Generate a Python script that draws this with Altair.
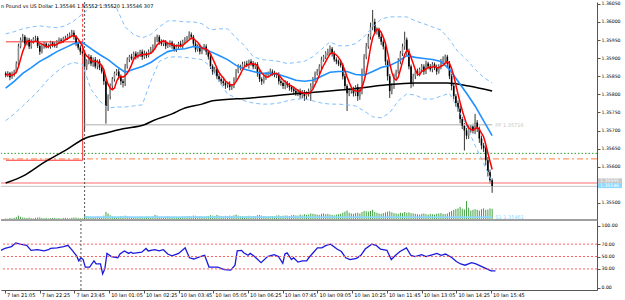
import altair as alt
import pandas as pd

BASE = 1.35
PT = 1e-5

# ---- bar data (points above 1.35000) ----
first_open_pts = 858
close_pts = [
    853, 858, 847, 855, 863, 885, 932, 951, 959, 940,
    951, 932, 945, 954, 956, 934, 918, 932, 940, 934,
    932, 943, 937, 934, 945, 951, 948, 954, 956, 962,
    965, 970, 959, 940, 929, 918, 913, 877, 891, 904,
    885, 896, 877, 891, 874, 863, 836, 768, 795, 823,
    842, 858, 863, 850, 836, 831, 877, 896, 904, 899,
    913, 904, 910, 918, 904, 913, 907, 918, 924, 932,
    951, 959, 945, 940, 945, 934, 937, 943, 934, 924,
    932, 940, 934, 945, 951, 956, 965, 959, 940, 924,
    932, 918, 926, 932, 918, 904, 877, 863, 869, 850,
    842, 836, 831, 825, 828, 820, 823, 842, 863, 877,
    874, 883, 885, 880, 891, 885, 877, 883, 858, 842,
    836, 847, 855, 858, 863, 858, 853, 855, 836, 831,
    823, 831, 825, 820, 814, 809, 803, 809, 798, 806,
    795, 803, 809, 823, 842, 858, 863, 877, 896, 904,
    913, 918, 926, 913, 896, 891, 885, 880, 850, 823,
    803, 809, 814, 803, 820, 795, 809, 863, 904, 932,
    959, 986, 1000, 973, 978, 959, 945, 932, 891, 850,
    809, 823, 850, 863, 891, 913, 932, 951, 918, 877,
    831, 850, 863, 858, 869, 877, 863, 885, 877, 869,
    883, 874, 863, 877, 891, 896, 904, 885, 850, 823,
    795, 776, 760, 732, 713, 700, 686, 705, 711, 700,
    722, 705, 678, 659, 651, 618, 585, 563, 546,
]
high_ext = [
    5, 6, 4, 8, 5, 6, 8, 6, 8, 5,
    6, 5, 7, 4, 6, 5, 6, 8, 5, 4,
    6, 5, 4, 7, 5, 6, 4, 5, 6, 5,
    6, 8, 7, 5, 4, 6, 5, 8, 6, 7,
    5, 6, 7, 5, 6, 4, 8, 6, 5, 7,
    6, 5, 7, 8, 5, 6, 7, 6, 5, 8,
    5, 6, 7, 5, 6, 8, 5, 6, 7, 6,
    8, 6, 5, 7, 6, 5, 8, 6, 5, 7,
    6, 5, 8, 6, 7, 5, 9, 6, 5, 7,
    6, 8, 5, 7, 6, 5, 8, 6, 7, 5,
    6, 5, 7, 6, 5, 8, 6, 5, 7, 6,
    5, 7, 6, 8, 5, 6, 7, 5, 6, 8,
    5, 7, 6, 5, 8, 6, 7, 5, 6, 7,
    5, 8, 6, 7, 5, 6, 8, 5, 7, 6,
    6, 5, 7, 8, 6, 5, 7, 6, 8, 5,
    6, 8, 9, 5, 7, 6, 5, 8, 6, 7,
    5, 8, 6, 7, 5, 9, 6, 8, 7, 10,
    8, 12, 33, 9, 7, 6, 8, 7, 6, 5,
    6, 8, 7, 5, 9, 7, 8, 22, 6, 8,
    5, 7, 6, 8, 5, 7, 6, 8, 5, 7,
    6, 5, 8, 6, 7, 9, 6, 5, 7, 6,
    8, 6, 7, 9, 6, 8, 7, 10, 6, 8,
    24, 7, 6, 8, 7, 6, 9, 7, 5,
]
low_ext = [
    6, 5, 8, 4, 6, 5, 7, 5, 6, 8,
    5, 7, 6, 5, 8, 6, 9, 5, 6, 7,
    5, 6, 7, 5, 6, 5, 7, 6, 5, 6,
    5, 6, 8, 7, 6, 9, 8, 177, 10, 8,
    7, 9, 6, 8, 7, 6, 10, 49, 14, 9,
    8, 7, 6, 9, 10, 12, 8, 6, 7, 5,
    6, 8, 5, 7, 9, 6, 7, 5, 6, 8,
    5, 7, 8, 6, 7, 9, 6, 7, 8, 6,
    7, 6, 5, 8, 6, 7, 5, 6, 9, 8,
    6, 8, 7, 5, 9, 8, 7, 9, 6, 8,
    7, 9, 8, 10, 7, 9, 8, 6, 7, 5,
    8, 6, 7, 5, 9, 6, 8, 7, 9, 8,
    10, 6, 7, 8, 5, 7, 6, 8, 9, 7,
    8, 9, 7, 10, 8, 9, 7, 8, 10, 9,
    13, 8, 9, 27, 7, 8, 6, 7, 8, 6,
    7, 6, 8, 9, 6, 8, 7, 6, 9, 12,
    49, 8, 7, 9, 8, 13, 10, 9, 8, 7,
    6, 8, 9, 7, 8, 6, 9, 8, 10, 12,
    19, 9, 8, 7, 6, 8, 7, 9, 10, 8,
    14, 9, 8, 7, 8, 6, 9, 7, 8, 6,
    8, 7, 9, 6, 8, 7, 9, 10, 8, 12,
    9, 10, 8, 12, 9, 55, 10, 9, 11, 8,
    10, 9, 12, 11, 10, 14, 12, 10, 18,
]
volume = [
    40, 35, 55, 45, 60, 80, 120, 90, 70, 60,
    55, 65, 50, 45, 60, 70, 75, 55, 50, 60,
    45, 50, 55, 60, 45, 50, 40, 55, 60, 50,
    45, 60, 70, 65, 55, 50, 45, 150, 110, 90,
    80, 75, 70, 85, 90, 80, 120, 220, 180, 130,
    100, 90, 80, 85, 110, 95, 120, 100, 90, 85,
    80, 75, 70, 90, 85, 80, 95, 90, 85, 100,
    140, 120, 90, 85, 80, 95, 100, 85, 80, 90,
    85, 80, 75, 90, 95, 100, 110, 95, 120, 115,
    100, 110, 95, 90, 100, 110, 130, 120, 110, 140,
    120, 110, 100, 115, 105, 120, 110, 130, 150, 120,
    110, 100, 95, 105, 115, 100, 110, 105, 130, 140,
    120, 110, 100, 95, 105, 110, 100, 120, 130, 110,
    115, 125, 120, 110, 130, 140, 125, 120, 150, 130,
    160, 140, 150, 180, 170, 160, 150, 140, 170, 180,
    160, 170, 150, 140, 130, 150, 160, 170, 200, 230,
    260, 200, 180, 170, 190, 200, 180, 220, 250, 240,
    230, 250, 280, 220, 200, 180, 170, 190, 210, 230,
    240, 210, 190, 180, 170, 200, 190, 220, 200, 210,
    190, 180, 170, 160, 150, 170, 180, 160, 150, 170,
    160, 150, 170, 180, 190, 170, 160, 180, 220, 250,
    280, 300, 320, 360, 310, 290, 520, 340, 260, 280,
    300, 280, 260, 300, 320, 280, 290, 320, 307,
]

# ---- indicator lines (points above 1.35000) ----
line_idx = list(range(0, 229, 4))
blue_pts = [817, 836, 858, 874, 891, 904, 918, 929, 940, 943, 926, 910, 896, 877, 861,
            869, 877, 888, 904, 918, 924, 926, 932, 929, 918, 907, 896, 880, 869, 863,
            858, 858, 855, 847, 839, 836, 839, 850, 861, 863, 863, 855, 853, 863, 874,
            880, 891, 907, 902, 899, 896, 891, 869, 836, 803, 768, 727, 686]
upper_pts = [967, 973, 981, 986, 989, 986, 984, 989, 1003, 1022, 1041, 1046, 1046, 1038, 986,
             965, 956, 965, 986, 1003, 1003, 1000, 1000, 995, 978, 981, 981, 956, 934, 904,
             896, 894, 891, 885, 888, 891, 904, 924, 945, 934, 934, 940, 959, 986, 1008,
             1014, 1014, 1014, 1003, 995, 986, 978, 951, 918, 896, 869, 847, 831]
lower_pts = [727, 746, 768, 790, 814, 842, 863, 880, 888, 883, 814, 782, 762, 765, 765,
             768, 771, 836, 891, 902, 904, 902, 899, 896, 877, 836, 801, 790, 782, 776,
             773, 773, 776, 782, 787, 787, 782, 776, 773, 773, 771, 768, 754, 738, 735,
             749, 782, 801, 798, 787, 787, 795, 803, 760, 713, 659, 610, 558]
black_idx = [0, 9, 18, 28, 37, 46, 55, 65, 69, 78, 83, 92, 97, 115, 138, 161, 177, 192, 207, 217, 228]
black_pts = [555, 577, 612, 645, 678, 692, 705, 716, 727, 746, 760, 773, 782, 790, 803, 814,
             825, 831, 831, 823, 809]

rsi_idx = [0, 2, 5, 7, 9, 12, 14, 17, 20, 22, 23, 26, 29, 31, 33, 35, 36, 37, 38, 39,
           41, 43, 44, 46, 47, 48, 49, 51, 54, 55, 57, 59, 60, 61, 65, 67, 68, 71, 73, 75,
           77, 79, 82, 84, 85, 87, 89, 92, 94, 96, 100, 103, 106, 108, 109, 111, 112, 114, 115, 117,
           120, 123, 126, 128, 130, 131, 132, 134, 135, 137, 139, 141, 142, 144, 146, 148, 150, 152, 155, 157,
           159, 161, 164, 166, 168, 171, 173, 175, 178, 180, 182, 184, 187, 189, 191, 194, 196, 198, 201, 203,
           205, 208, 210, 212, 214, 217, 219, 221, 224, 226, 228]
rsi_val = [60, 63, 66, 72, 70, 68, 60, 61, 59, 61, 63, 64, 66, 68, 60, 51, 43, 48, 45, 33,
           33, 43, 38, 38, 22, 30, 55, 50, 48, 54, 59, 55, 57, 55, 57, 63, 59, 61, 59, 61,
           54, 51, 55, 61, 64, 48, 46, 50, 52, 33, 33, 29, 28, 36, 59, 60, 56, 52, 55, 50,
           40, 50, 53, 50, 39, 54, 56, 45, 48, 41, 43, 43, 48, 56, 64, 64, 68, 70, 62, 58,
           48, 45, 47, 52, 62, 70, 68, 62, 60, 45, 52, 58, 64, 52, 50, 53, 50, 52, 55, 52,
           54, 48, 42, 38, 36, 40, 38, 35, 30, 27, 27]

tick_idx = [2, 18, 34, 50, 66, 82, 98, 114, 130, 146, 162, 178, 194, 210, 226]
tick_labels = ["7 Jan 21:05", "7 Jan 22:25", "7 Jan 23:45", "10 Jan 01:05", "10 Jan 02:25",
               "10 Jan 03:45", "10 Jan 05:05", "10 Jan 06:25", "10 Jan 07:45", "10 Jan 09:05",
               "10 Jan 10:25", "10 Jan 11:45", "10 Jan 13:05", "10 Jan 14:25", "10 Jan 15:45"]
price_ticks = [1.36050, 1.36000, 1.35950, 1.35900, 1.35850, 1.35800, 1.35750,
               1.35700, 1.35650, 1.35600, 1.35500]
rsi_ticks = [0, 30, 50, 70, 100]
rsi_levels = [70, 50, 30]

title_text = "n Pound vs US Dollar  1.35546 1.35552 1.35520 1.35546  307"
green_lvl = 1.35637
orange_lvl = 1.35622
ask_lvl = 1.35555
bid_lvl = 1.35546
pp_lvl = 1.35716
s1_lvl = 1.35461
pivot_from, pivot_to, pivot_label_at = 37, 228, 229.5
sep_idx = 37
box_top, box_bot, box_left, box_right = 1.35945, 1.35618, 0.16, 36.1

X_DOM = [0.16, 274.8]
Y_DOM = [1.35453, 1.36055]
R_DOM = [-4.0, 108.9]
FONT = "DejaVu Sans"

# ---- tables ----
opens = [first_open_pts] + close_pts[:-1]
rows = []
for k, c in enumerate(close_pts):
    o = opens[k]
    rows.append(dict(i=k, open=BASE + o * PT, close=BASE + c * PT,
                     high=BASE + (max(o, c) + high_ext[k]) * PT,
                     low=BASE + (min(o, c) - low_ext[k]) * PT,
                     vol=volume[k]))
df = pd.DataFrame(rows)
df_lines = pd.DataFrame(dict(i=line_idx, mid=[BASE + v * PT for v in blue_pts],
                             up=[BASE + v * PT for v in upper_pts],
                             lo=[BASE + v * PT for v in lower_pts]))
df_black = pd.DataFrame(dict(i=black_idx, v=[BASE + v * PT for v in black_pts]))
df_rsi = pd.DataFrame(dict(i=rsi_idx, rsi=rsi_val))

xs = alt.Scale(domain=X_DOM, nice=False, zero=False)
ys = alt.Scale(domain=Y_DOM, nice=False, zero=False)
rs = alt.Scale(domain=R_DOM, nice=False, zero=False)

AX = dict(tickSize=3, labelPadding=1, labelFontSize=4.6, labelFont=FONT, labelColor="#000",
          domainColor="#555", tickColor="#555", grid=False, labelFlush=False, labelOverlap=False, title=None)
price_axis = alt.Axis(orient="right", values=price_ticks, format=".5f", **AX)
rsi_axis = alt.Axis(orient="right", values=rsi_ticks, format=".2f", **AX)
label_expr = ("[" + ",".join(f"'{s}'" for s in tick_labels) + "][indexof(["
              + ",".join(str(t) for t in tick_idx) + "], datum.value)]")
x_axis = alt.Axis(orient="bottom", values=tick_idx, labelExpr=label_expr, tickSize=3, labelAlign="left",
                  labelBaseline="top", labelPadding=-1, labelOffset=1.5, labelFontSize=5, labelFont=FONT,
                  labelColor="#000", domainColor="#555", tickColor="#555", grid=False,
                  labelOverlap=False, labelFlush=False, title=None)


def Xm(field="i"):
    return alt.X(field, type="quantitative", scale=xs, axis=None)


def Yp(field):
    return alt.Y(field, type="quantitative", scale=ys, axis=price_axis)


def Xr(field="i"):
    return alt.X(field, type="quantitative", scale=xs, axis=x_axis)


def Yr(field):
    return alt.Y(field, type="quantitative", scale=rs, axis=rsi_axis)


def hline(level, **kw):
    return alt.Chart(pd.DataFrame({"y": [level]})).mark_rule(**kw).encode(y=Yp("y"))


lv_green = hline(green_lvl, color="#2e9e2e", strokeDash=[1.5, 2], strokeWidth=1)
lv_orange = hline(orange_lvl, color="#ff9966", strokeDash=[6, 3, 2, 3], strokeWidth=1.3)
lv_ask = hline(ask_lvl, color="#ff9c9c", strokeWidth=1.5)
lv_bid = hline(bid_lvl, color="#c4c4c4", strokeWidth=1)

piv = pd.DataFrame(dict(name=["PP", "S1"], y=[pp_lvl, s1_lvl], x0=[pivot_from] * 2, x1=[pivot_to] * 2,
                        xt=[pivot_label_at] * 2,
                        label=[f"PP {pp_lvl:.5f}", f"S1 {s1_lvl:.5f}"]))
piv_lines = alt.Chart(piv).mark_rule(strokeWidth=1.6).encode(
    x=Xm("x0"), x2="x1:Q", y=Yp("y"),
    color=alt.Color("name:N", scale=alt.Scale(domain=["PP", "S1"], range=["#c8c8c8", "#8fd8ff"]), legend=None))
piv_text = alt.Chart(piv).mark_text(align="left", baseline="middle", fontSize=5, font=FONT).encode(
    x=Xm("xt"), y=Yp("y"), text="label:N",
    color=alt.Color("name:N", scale=alt.Scale(domain=["PP", "S1"], range=["#b0b0b0", "#4db8ff"]), legend=None))

box = pd.DataFrame(dict(x0=[box_left, box_left, box_right], x1=[box_right, box_right, box_right],
                        y0=[box_top, box_bot, box_bot], y1=[box_top, box_bot, box_top]))
red_box = alt.Chart(box).mark_rule(color="#ff3030", strokeWidth=1, clip=True).encode(
    x=Xm("x0"), x2="x1:Q", y=Yp("y0"), y2="y1:Q")
red_top = alt.Chart(pd.DataFrame(dict(x=[box_right], y0=[box_top], y1=[Y_DOM[1]]))).mark_rule(
    color="#ff3030", strokeWidth=1, strokeDash=[3, 2]).encode(x=Xm("x"), y=Yp("y0"), y2="y1:Q")

sep_main = alt.Chart(pd.DataFrame({"i": [sep_idx]})).mark_rule(
    color="#555", strokeDash=[2, 2], strokeWidth=1).encode(x=Xm())

wick = alt.Chart(df).mark_rule(color="#333", strokeWidth=1, clip=True).encode(
    x=Xm(), y=Yp("low"), y2="high:Q")
body = alt.Chart(df).mark_bar(size=1.6, clip=True).encode(
    x=Xm(), y=Yp("open"), y2="close:Q",
    color=alt.condition("datum.close >= datum.open", alt.value("#8c8c8c"), alt.value("#000000")))

bands_up = alt.Chart(df_lines).mark_line(color="#7fbfff", strokeDash=[4, 3], strokeWidth=1, clip=True).encode(
    x=Xm(), y=Yp("up"))
bands_lo = alt.Chart(df_lines).mark_line(color="#7fbfff", strokeDash=[4, 3], strokeWidth=1, clip=True).encode(
    x=Xm(), y=Yp("lo"))
blue_ma = alt.Chart(df_lines).mark_line(color="#1e90ff", strokeWidth=1.6, clip=True).encode(x=Xm(), y=Yp("mid"))
black_ma = alt.Chart(df_black).mark_line(color="#000000", strokeWidth=1.5, clip=True,
                                         interpolate="monotone").encode(x=Xm(), y=Yp("v"))
red_ma = alt.Chart(df).transform_window(
    ma="mean(close)", frame=[-4, 0], sort=[alt.SortField("i")]).mark_line(
    color="#ff0000", strokeWidth=1.5, clip=True).encode(x=Xm(), y=Yp("ma"))

pbox = pd.DataFrame(dict(y0=[1.35555, 1.35541], y1=[1.35568, 1.35555], yc=[1.355615, 1.35548],
                         name=["ask", "bid"], label=[f"{ask_lvl:.5f}", f"{bid_lvl:.5f}"]))
pbox_rect = alt.Chart(pbox).mark_rect().encode(
    x=alt.value(597), x2=alt.value(621), y=Yp("y0"), y2="y1:Q",
    color=alt.Color("name:N", scale=alt.Scale(domain=["ask", "bid"], range=["#ff2020", "#b4b4b4"]), legend=None))
pbox_text = alt.Chart(pbox).mark_text(align="left", baseline="middle", fontSize=4.6, font=FONT,
                                      color="#ffffff").encode(x=alt.value(599), y=Yp("yc"), text="label:N")

title = alt.Chart(pd.DataFrame({"t": [title_text]})).mark_text(
    align="left", baseline="middle", fontSize=5, font=FONT, color="#000").encode(
    x=alt.value(0), y=alt.value(3.7), text="t:N")

vol = alt.Chart(df).mark_rule(color="#40a040", strokeWidth=1, clip=True).encode(
    x=Xm(), y=alt.Y("vol:Q", scale=alt.Scale(domain=[0, 6000], nice=False), axis=None), y2=alt.datum(0))

price = alt.layer(wick, lv_green, lv_orange, lv_ask, lv_bid, piv_lines, red_box, red_top, sep_main,
                  body, bands_up, bands_lo, black_ma, blue_ma, red_ma, piv_text, pbox_rect, pbox_text)
main = alt.layer(vol, price, title).resolve_scale(y="independent").properties(width=596, height=218)

# ---- RSI panel ----
rsi_line = alt.Chart(df_rsi).mark_line(color="#1a1adc", strokeWidth=1.3, clip=True).encode(
    x=Xr(), y=Yr("rsi"))
rsi_lv = alt.Chart(pd.DataFrame({"v": rsi_levels})).mark_rule(
    color="#ff6060", strokeDash=[2, 2], strokeWidth=1).encode(y=Yr("v"))
rsi_sep = alt.Chart(pd.DataFrame({"i": [sep_idx]})).mark_rule(
    color="#555", strokeDash=[2, 2], strokeWidth=1).encode(x=Xr())
top_sep = alt.Chart(pd.DataFrame({"v": [R_DOM[1]]})).mark_rule(color="#a0a0a0", strokeWidth=2).encode(
    y=Yr("v"))

rsi = alt.layer(rsi_line, rsi_lv, rsi_sep, top_sep).properties(width=596, height=70)

chart = alt.vconcat(main, rsi, spacing=0, padding=0, bounds="flush",
                    background="#ffffff").configure_view(stroke=None)
chart.save("out.html", embed_options={"renderer": "svg", "actions": False})
